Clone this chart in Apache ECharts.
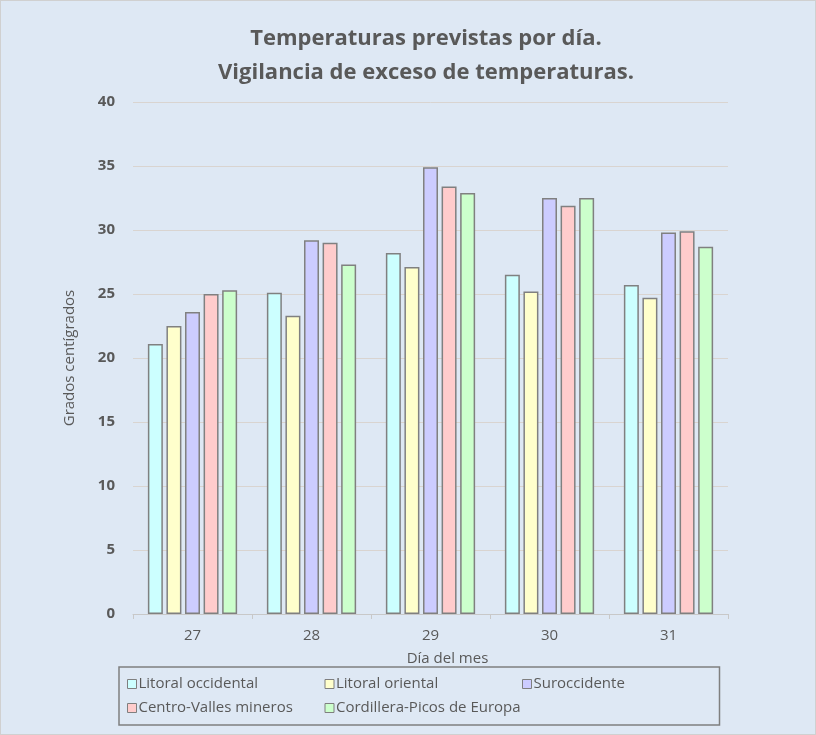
<!DOCTYPE html>
<html>
<head>
<meta charset="utf-8">
<script src="https://cdn.jsdelivr.net/npm/echarts@6/dist/echarts.min.js"></script>
<style>
html,body{margin:0;padding:0;background:#fff;}
#c{width:816px;height:735px;box-sizing:border-box;border:1px solid #d0d0d0;}
</style>
</head>
<body>
<div id="c"></div>
<script>
const categories = ['27', '28', '29', '30', '31'];
const seriesNames = ['Litoral occidental', 'Litoral oriental', 'Suroccidente', 'Centro-Valles mineros', 'Cordillera-Picos de Europa'];
const litoralOccidental = [21.1, 25.1, 28.2, 26.5, 25.7];
const litoralOriental = [22.5, 23.3, 27.1, 25.2, 24.7];
const suroccidente = [23.6, 29.2, 34.9, 32.5, 29.8];
const centroValles = [25.0, 29.0, 33.4, 31.9, 29.9];
const cordillera = [25.3, 27.3, 32.9, 32.5, 28.7];
const yTicks = [0, 5, 10, 15, 20, 25, 30, 35, 40];

const seriesData = [litoralOccidental, litoralOriental, suroccidente, centroValles, cordillera];
const colors = ['#CCFFFF', '#FFFFCC', '#CCCCFF', '#FFCCCC', '#CCFFCC'];
const textColor = '#595959';
const font = '"Open Sans", "Noto Sans", sans-serif';

const chart = echarts.init(document.getElementById('c'));
chart.setOption({
  backgroundColor: '#DEE8F4',
  animation: false,
  title: {
    text: 'Temperaturas previstas por día.\nVigilancia de exceso de temperaturas.',
    left: 420, textAlign: 'center', top: 16,
    textStyle: { fontFamily: font, fontSize: 22, fontWeight: 'bold', color: textColor, lineHeight: 34 }
  },
  grid: { left: 132, right: 87, top: 101, bottom: 120 },
  xAxis: {
    type: 'category', data: categories,
    name: 'Día del mes', nameLocation: 'middle', nameGap: 37,
    nameTextStyle: { fontFamily: font, fontSize: 15, color: textColor, padding: [0, 0, 0, 34] },
    axisLine: { lineStyle: { color: '#C8C8C8', width: 1 } },
    axisTick: { show: true, alignWithLabel: false, length: 5, lineStyle: { color: '#C8C8C8' } },
    axisLabel: { fontFamily: font, fontSize: 15, color: textColor, margin: 14 }
  },
  yAxis: {
    type: 'value', min: yTicks[0], max: yTicks[yTicks.length - 1], interval: 5,
    name: 'Grados centígrados', nameLocation: 'middle', nameGap: 56, nameRotate: 90,
    nameTextStyle: { fontFamily: font, fontSize: 15, color: textColor },
    axisLine: { show: false }, axisTick: { show: false },
    axisLabel: { fontFamily: font, fontSize: 15, fontWeight: 'bold', color: textColor, margin: 18 },
    splitLine: { lineStyle: { color: '#D9D4D0', width: 1 } }
  },
  legend: {
    left: 118, top: 666, width: 610,
    orient: 'horizontal',
    itemWidth: 9, itemHeight: 9, itemGap: 0,
    padding: [5, 0, 5, 8],
    borderColor: '#7F7F7F', borderWidth: 1.5,
    icon: 'rect',
    itemStyle: { borderColor: '#7F7F7F', borderWidth: 1 },
    formatter: '{a|{name}}',
    textStyle: {
      fontFamily: font, fontSize: 15, color: textColor,
      rich: { a: { width: 186, height: 24, lineHeight: 24, fontFamily: font, fontSize: 15, color: textColor, padding: [0, 0, 0, -3] } }
    },
    data: seriesNames
  },
  series: seriesNames.map((n, i) => ({
    name: n, type: 'bar', data: seriesData[i],
    barGap: '24%', barCategoryGap: '25%',
    itemStyle: { color: colors[i], borderColor: '#808080', borderWidth: 1.5 }
  }))
});
</script>
</body>
</html>
